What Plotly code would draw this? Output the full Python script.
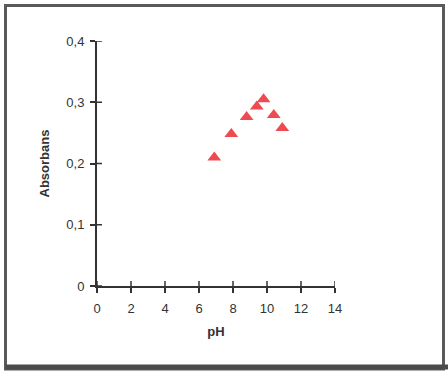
import plotly.graph_objects as go

ph = [6.9, 7.9, 8.8, 9.4, 9.8, 10.4, 10.9]
absorbans = [0.21, 0.248, 0.276, 0.293, 0.305, 0.279, 0.258]

x_ticks = [0, 2, 4, 6, 8, 10, 12, 14]
y_ticks = [0, 0.1, 0.2, 0.3, 0.4]
y_ticktext = ["0", "0,1", "0,2", "0,3", "0,4"]

W, H = 448, 378
L, R, T, B = 97, 448 - 335, 41, 378 - 286
pw, ph_ = W - L - R, H - T - B

def px(x):
    return (x - L) / pw

def py(y):
    return (H - B - y) / ph_

fig = go.Figure()
fig.add_trace(go.Scatter(
    x=ph, y=absorbans, mode="markers",
    marker=dict(symbol="triangle-up", size=12, color="#ee4b50", line=dict(width=0)),
    showlegend=False, hoverinfo="skip"))

font = dict(family="Liberation Sans, Arial, sans-serif", size=13, color="#333333")
axcol = "#333333"

shapes = [
    dict(type="rect", xref="paper", yref="paper",
         x0=px(5.5), x1=px(443.5), y0=py(369), y1=py(5.5),
         line=dict(color="#5a5a5a", width=3), layer="above"),
    dict(type="line", xref="paper", yref="paper",
         x0=px(5.5), x1=px(448), y0=py(367), y1=py(367),
         line=dict(color="#4a4a4a", width=5), layer="above"),
]
# inner halves of the crossing tick marks
for t in x_ticks:
    shapes.append(dict(type="line", xref="x", x0=t, x1=t,
                       yref="y", ysizemode="pixel", yanchor=0, y0=0, y1=5,
                       line=dict(color=axcol, width=1.5)))
for t in y_ticks:
    shapes.append(dict(type="line", yref="y", y0=t, y1=t,
                       xref="x", xsizemode="pixel", xanchor=0, x0=0, x1=5,
                       line=dict(color=axcol, width=1.5)))

fig.update_layout(
    width=W, height=H,
    margin=dict(l=L, r=R, t=T, b=B, pad=0),
    paper_bgcolor="white", plot_bgcolor="white",
    font=font,
    xaxis=dict(range=[0, 14], tickvals=x_ticks, ticks="outside", ticklen=5,
               tickwidth=1.5, tickcolor=axcol, showline=True, linecolor=axcol,
               linewidth=2, showgrid=False, zeroline=False, ticklabelstandoff=4,
               title=dict(text="<b>pH</b>", font=dict(size=13), standoff=12)),
    yaxis=dict(range=[0, 0.4], tickvals=y_ticks, ticktext=y_ticktext,
               ticks="outside", ticklen=5, tickwidth=1.5, tickcolor=axcol,
               showline=True, linecolor=axcol, linewidth=2, showgrid=False,
               zeroline=False, ticklabelstandoff=3,
               title=dict(text="<b>Absorbans</b>", font=dict(size=13), standoff=14)),
    shapes=shapes,
)

fig.write_html("out.html")
